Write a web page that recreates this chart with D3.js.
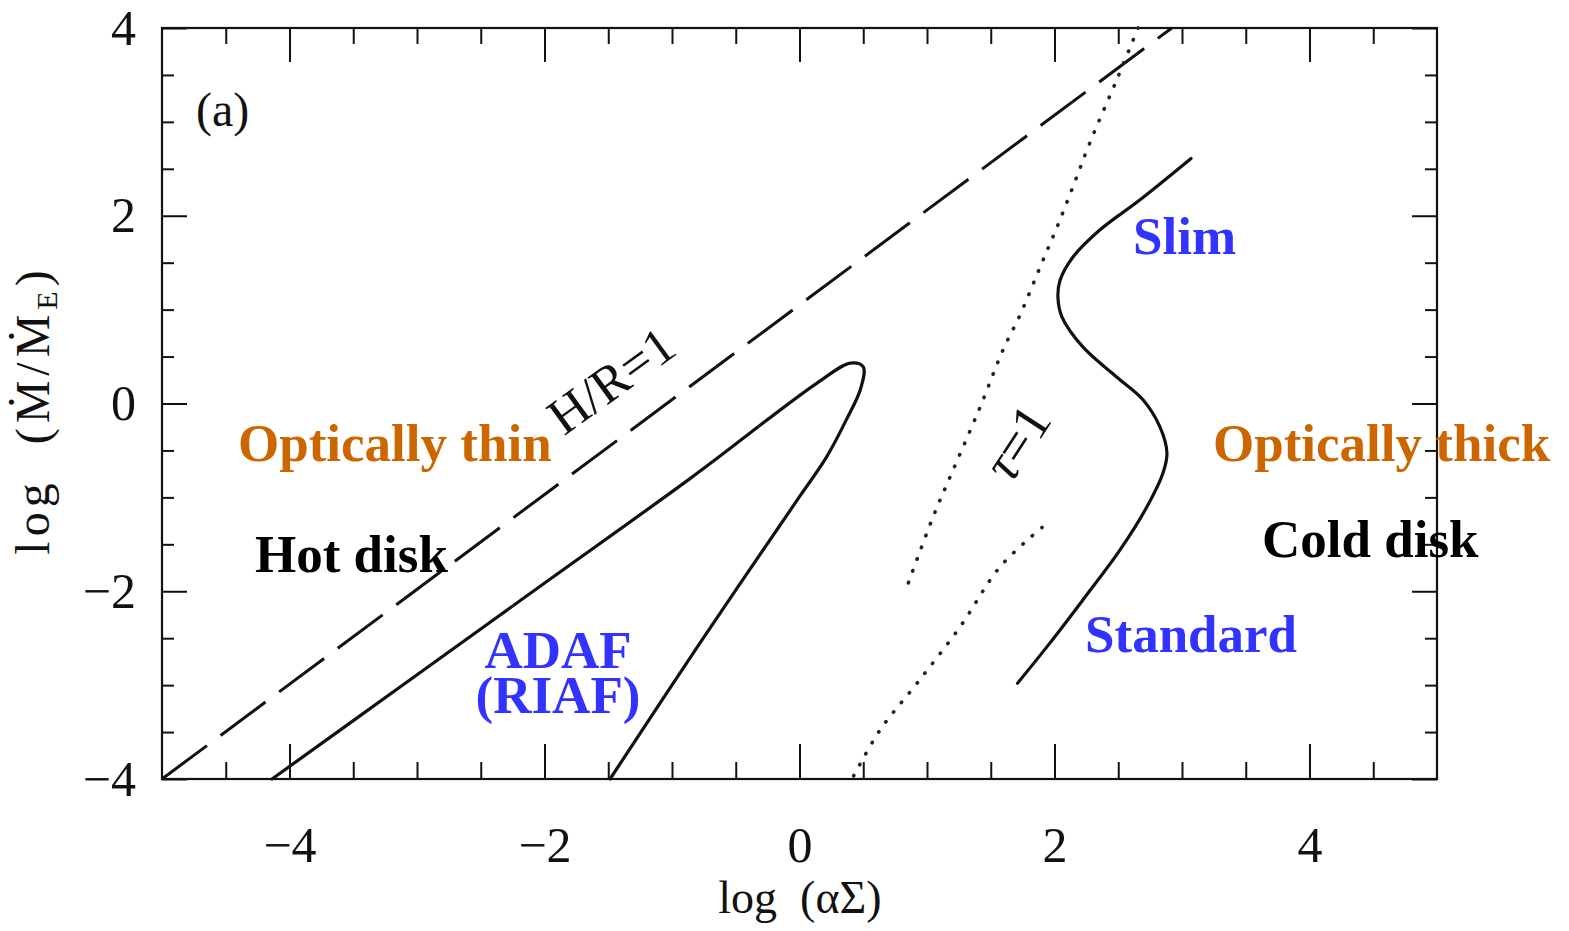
<!DOCTYPE html>
<html>
<head>
<meta charset="utf-8">
<script src="https://cdn.jsdelivr.net/npm/d3@7/dist/d3.min.js"></script>
<style>
  html, body { margin: 0; padding: 0; background: #fff; }
  svg { display: block; }
</style>
</head>
<body>
<svg id="chart" width="1569" height="931"></svg>
<script>
// Accretion-disk equilibrium curves in the (log αΣ, log Ṁ/Ṁ_E) plane

// Axis ticks
const xMajorTicks = [-4, -2, 0, 2, 4];
const xMinorTicks = [-4.5, -3.5, -3, -2.5, -1.5, -1, -0.5, 0.5, 1, 1.5, 2.5, 3, 3.5, 4.5];
const yMajorTicks = [-4, -2, 0, 2, 4];
const yMinorTicks = [-3.5, -3, -2.5, -1.5, -1, -0.5, 0.5, 1, 1.5, 2.5, 3, 3.5];

// H/R = 1 boundary (dashed)
const hrLine = [[-5, -4], [2.92, 4]];

// ADAF / RIAF branch (hot, optically thin solution)
const adafCurve = [
  [-4.137, -4.0], [-3.133, -3.02], [-1.996, -1.91], [-0.859, -0.80],
  [0.14, 0.22], [0.40, 0.43], [0.50, 0.39],
  [0.48, 0.16], [0.365, -0.18], [0.208, -0.58], [0.004, -0.985],
  [-0.78, -2.55], [-1.486, -4.0]
];

// Standard / slim disk branch (optically thick S-curve)
const thickCurve = [
  [1.71, -2.98], [1.965, -2.55], [2.224, -2.09], [2.514, -1.56],
  [2.725, -1.10], [2.851, -0.74], [2.882, -0.53], [2.827, -0.25],
  [2.694, 0.04], [2.49, 0.28], [2.224, 0.60], [2.059, 0.92],
  [2.027, 1.13], [2.043, 1.31], [2.145, 1.56], [2.357, 1.85],
  [2.671, 2.17], [3.071, 2.61]
];

// τ = 1 boundaries (dotted)
const tauUpper = [
  [2.655, 4.0], [2.498, 3.48], [2.278, 2.78], [2.145, 2.31],
  [2.02, 1.88], [1.886, 1.45], [1.729, 0.94], [1.596, 0.57],
  [1.416, -0.04], [1.204, -0.71], [1.047, -1.21], [0.843, -1.95]
];
const tauLower = [
  [1.902, -1.32], [1.573, -1.74], [1.259, -2.38], [0.922, -2.98],
  [0.631, -3.48], [0.412, -4.0]
];

const svg = d3.select("#chart");
const x = d3.scaleLinear().domain([-5, 5]).range([162, 1437]);
const y = d3.scaleLinear().domain([-4, 4]).range([779, 28]);

const serif = '"Liberation Serif", "Times New Roman", "DejaVu Serif", serif';

// Frame
svg.append("rect")
  .attr("x", x(-5)).attr("y", y(4))
  .attr("width", x(5) - x(-5)).attr("height", y(-4) - y(4))
  .attr("fill", "none").attr("stroke", "#111").attr("stroke-width", 2.2);

function styleAxis(g) {
  g.select(".domain").remove();
  g.selectAll(".tick line").attr("stroke", "#111").attr("stroke-width", 2);
  g.selectAll(".tick text")
    .attr("font-size", 50).attr("fill", "#111").attr("font-family", serif);
}

// Bottom axis (ticks point inward)
svg.append("g").attr("transform", `translate(0,${y(-4)})`)
  .call(d3.axisBottom(x).tickValues(xMajorTicks).tickSizeInner(-35).tickSizeOuter(0).tickPadding(47))
  .call(styleAxis);
svg.append("g").attr("transform", `translate(0,${y(-4)})`)
  .call(d3.axisBottom(x).tickValues(xMinorTicks).tickSizeInner(-17).tickSizeOuter(0).tickFormat(""))
  .call(styleAxis);
// Top axis
svg.append("g").attr("transform", `translate(0,${y(4)})`)
  .call(d3.axisTop(x).tickValues(xMajorTicks).tickSizeInner(-34).tickSizeOuter(0).tickFormat(""))
  .call(styleAxis);
svg.append("g").attr("transform", `translate(0,${y(4)})`)
  .call(d3.axisTop(x).tickValues(xMinorTicks).tickSizeInner(-16).tickSizeOuter(0).tickFormat(""))
  .call(styleAxis);
// Left axis
svg.append("g").attr("transform", `translate(${x(-5)},0)`)
  .call(d3.axisLeft(y).tickValues(yMajorTicks).tickSizeInner(-25).tickSizeOuter(0).tickPadding(26))
  .call(styleAxis);
svg.append("g").attr("transform", `translate(${x(-5)},0)`)
  .call(d3.axisLeft(y).tickValues(yMinorTicks).tickSizeInner(-12).tickSizeOuter(0).tickFormat(""))
  .call(styleAxis);
// Right axis
svg.append("g").attr("transform", `translate(${x(5)},0)`)
  .call(d3.axisRight(y).tickValues(yMajorTicks).tickSizeInner(-25).tickSizeOuter(0).tickFormat(""))
  .call(styleAxis);
svg.append("g").attr("transform", `translate(${x(5)},0)`)
  .call(d3.axisRight(y).tickValues(yMinorTicks).tickSizeInner(-12).tickSizeOuter(0).tickFormat(""))
  .call(styleAxis);

// Curves
const line = d3.line().x(d => x(d[0])).y(d => y(d[1])).curve(d3.curveCatmullRom.alpha(0.5));
const plot = svg.append("g");

plot.append("path").datum(hrLine).attr("d", line)
  .attr("fill", "none").attr("stroke", "#111").attr("stroke-width", 3)
  .attr("stroke-dasharray", "56,17");

[adafCurve, thickCurve].forEach(c => {
  plot.append("path").datum(c).attr("d", line)
    .attr("fill", "none").attr("stroke", "#111").attr("stroke-width", 3.2)
    .attr("stroke-linejoin", "round").attr("stroke-linecap", "round");
});

[tauUpper, tauLower].forEach(c => {
  plot.append("path").datum(c).attr("d", line)
    .attr("fill", "none").attr("stroke", "#222").attr("stroke-width", 3.6)
    .attr("stroke-linecap", "round").attr("stroke-dasharray", "0.5,12");
});

// Axis titles
svg.append("text")
  .attr("x", 800).attr("y", 913).attr("text-anchor", "middle")
  .attr("font-family", serif).attr("font-size", 46).attr("fill", "#111")
  .attr("xml:space", "preserve")
  .text("log  (αΣ)");

const yTitle = svg.append("text")
  .attr("transform", "translate(49,410) rotate(-90)")
  .attr("text-anchor", "middle")
  .attr("font-family", serif).attr("font-size", 48).attr("fill", "#111")
  .attr("letter-spacing", 5)
  .attr("xml:space", "preserve");
yTitle.append("tspan").text("log  (Ṁ/Ṁ");
yTitle.append("tspan").attr("font-size", 30).attr("dy", 8).text("E");
yTitle.append("tspan").attr("dy", -8).text(")");

// Panel tag
svg.append("text").attr("x", 196).attr("y", 126)
  .attr("font-family", serif).attr("font-size", 48).attr("fill", "#111")
  .text("(a)");

// Line labels
svg.append("text")
  .attr("transform", `translate(${x(-1.48)},${y(0.25)}) rotate(-36)`)
  .attr("text-anchor", "middle").attr("dy", "0.35em")
  .attr("font-family", serif).attr("font-size", 52).attr("fill", "#111")
  .text("H/R=1");
svg.append("text")
  .attr("transform", `translate(${x(1.70)},${y(-0.41)}) rotate(-57)`)
  .attr("text-anchor", "middle").attr("dy", "0.35em")
  .attr("font-family", serif).attr("font-size", 54).attr("fill", "#111")
  .html('<tspan font-style="italic">τ</tspan>=1');

// Region labels
const regionLabels = [
  { lines: ["Optically thin"],  px: 238,  py: 461, color: "#CC6600" },
  { lines: ["Optically thick"], px: 1213, py: 461, color: "#CC6600" },
  { lines: ["Hot disk"],        px: 255,  py: 572, color: "#000000" },
  { lines: ["Cold disk"],       px: 1262, py: 557, color: "#000000" },
  { lines: ["Slim"],            px: 1133, py: 254, color: "#3333FF" },
  { lines: ["Standard"],        px: 1085, py: 652, color: "#3333FF" },
  { lines: ["ADAF", "(RIAF)"],  px: 558,  py: 668, color: "#3333FF", anchor: "middle" }
];
svg.append("g").selectAll("text").data(regionLabels).join("text")
  .attr("x", d => d.px).attr("y", d => d.py)
  .attr("text-anchor", d => d.anchor || "start")
  .attr("font-family", serif).attr("font-weight", "bold").attr("font-size", 53)
  .attr("fill", d => d.color)
  .each(function (d) {
    d3.select(this).selectAll("tspan").data(d.lines).join("tspan")
      .attr("x", d.px).attr("dy", (t, i) => i === 0 ? 0 : 45)
      .text(t => t);
  });
</script>
</body>
</html>
